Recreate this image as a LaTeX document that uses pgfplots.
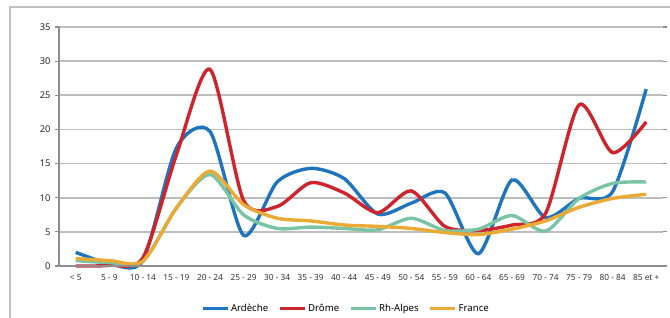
\documentclass[border=0pt]{standalone}
\usepackage{pgfplots}
\pgfplotsset{compat=1.18}
\usepackage{pgfplotstable}
\usepackage{fontspec}
\setmainfont{Noto Sans}
\definecolor{cA}{RGB}{31,116,192}
\definecolor{cD}{RGB}{208,36,44}
\definecolor{cR}{RGB}{122,196,166}
\definecolor{cF}{RGB}{234,170,52}
\definecolor{gridc}{RGB}{190,190,190}
\definecolor{axc}{RGB}{140,140,145}
\definecolor{framec}{RGB}{190,192,195}
\pgfplotstableread{
x A D R F
0 2.0 0.0 0.8 1.1
1 0.4 0.1 0.5 0.8
2 0.8 1.2 0.7 0.7
3 17.3 16.3 8.5 8.5
4 19.7 28.8 13.4 13.9
5 4.5 9.6 7.5 9.0
6 12.3 8.7 5.5 7.0
7 14.3 12.2 5.7 6.6
8 12.8 10.7 5.5 6.0
9 7.6 7.8 5.3 5.8
10 9.2 11.0 7.0 5.5
11 10.7 5.8 5.2 4.9
12 1.8 5.2 5.4 4.6
13 12.6 6.0 7.4 5.4
14 7.1 7.7 5.1 6.6
15 9.9 23.6 9.9 8.6
16 10.9 16.6 12.1 9.9
17 25.9 21.1 12.3 10.5
}\data
\begin{document}
\begin{tikzpicture}
\useasboundingbox (0,0) rectangle (670pt,318pt);
\draw[color=framec, line width=1.8pt] (10pt,-30pt) -- (10pt,311pt) -- (720pt,311pt);
\begin{axis}[
  at={(59pt,52pt)}, anchor=south west,
  scale only axis, width=604pt, height=239pt,
  xmin=-0.5, xmax=17.5, ymin=0, ymax=35,
  axis line style={draw=none},
  xtick={0,...,17},
  xticklabels={< 5, 5 - 9, 10 - 14, 15 - 19, 20 - 24, 25 - 29, 30 - 34, 35 - 39, 40 - 44, 45 - 49, 50 - 54, 55 - 59, 60 - 64, 65 - 69, 70 - 74, 75 - 79, 80 - 84, 85 et +},
  major x tick style={draw=none},
  extra x ticks={-0.5,0.5,1.5,2.5,3.5,4.5,5.5,6.5,7.5,8.5,9.5,10.5,11.5,12.5,13.5,14.5,15.5,16.5,17.5},
  extra x tick labels={},
  extra x tick style={major tick length=4pt, tick align=outside, major tick style={draw=axc, line width=1.2pt}, grid=none},
  ytick={0,5,...,35},
  ymajorgrids,
  grid style={gridc, line width=1.6pt},
  major y tick style={draw=axc, line width=1.2pt},
  tick align=outside, major tick length=4pt,
  y tick label style={font=\fontsize{9.3}{10}\selectfont, text=black!85, xshift=-1pt},
  x tick label style={font=\fontsize{8.3}{9}\selectfont, text=black!80, yshift=-1pt},
  /pgf/number format/assume math mode=true,
  legend style={draw=none, fill=none, at={(0.475,-0.178)}, anchor=center,
    font=\fontsize{9.6}{11}\selectfont, legend columns=-1,
    /tikz/every even column/.append style={column sep=8pt},
    inner sep=0pt, cells={anchor=west}},
  legend image code/.code={\draw[#1, line width=3pt] (-2pt,0pt) -- (23pt,0pt);},
  every axis plot/.append style={line width=3.4pt, no markers},
  clip=false,
]
\addplot[cA, smooth, tension=0.45] table[x=x,y=A] {\data};
\addplot[cD, smooth, tension=0.45] table[x=x,y=D] {\data};
\addplot[cR, smooth, tension=0.45] table[x=x,y=R] {\data};
\addplot[cF, smooth, tension=0.45] table[x=x,y=F] {\data};
\legend{Ardèche, Drôme, Rh-Alpes, France}
\draw[axc, line width=1.4pt] (axis cs:-0.5,0) -- (axis cs:-0.5,35);
\draw[axc, line width=1.4pt] (axis cs:-0.5,0) -- (axis cs:17.5,0);
\end{axis}
\end{tikzpicture}
\end{document}
